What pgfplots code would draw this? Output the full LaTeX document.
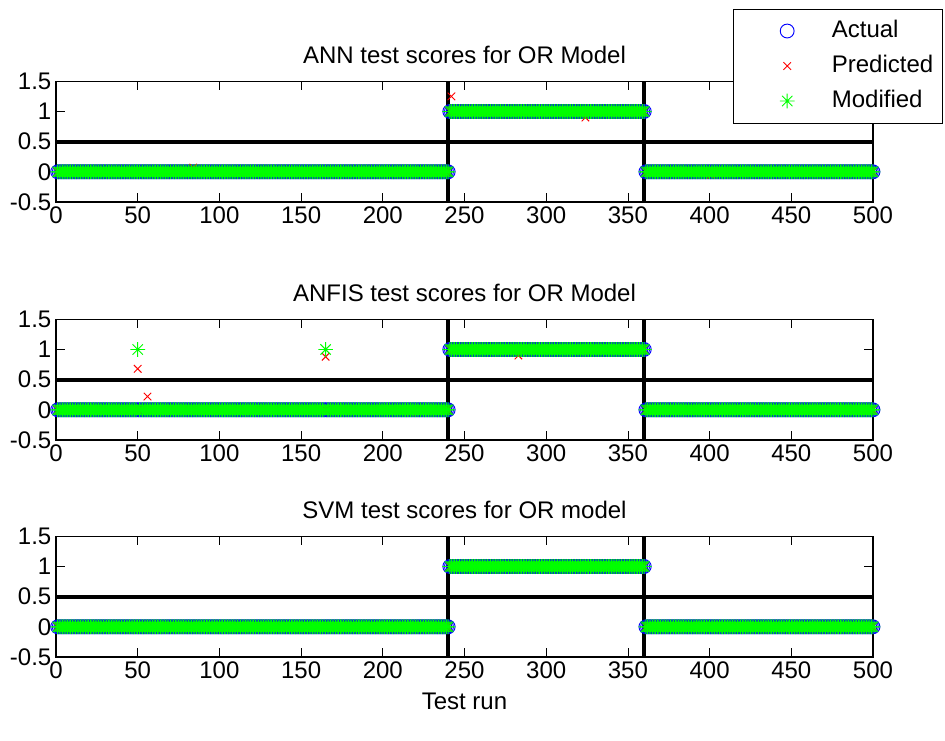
\documentclass[border=0pt]{standalone}
\usepackage{pgfplots}
\pgfplotsset{compat=1.18}
\usepackage{pgfplotstable}
\usepackage{fontspec}
\setmainfont{Liberation Sans}
\newcommand\ff{\fontsize{18}{21.6}\selectfont}

% matlab-like '*' marker (plus and cross)
\pgfdeclareplotmark{mstar}{%
  \pgfpathmoveto{\pgfpoint{-\pgfplotmarksize}{0pt}}%
  \pgfpathlineto{\pgfpoint{\pgfplotmarksize}{0pt}}%
  \pgfpathmoveto{\pgfpoint{0pt}{-\pgfplotmarksize}}%
  \pgfpathlineto{\pgfpoint{0pt}{\pgfplotmarksize}}%
  \pgfpathmoveto{\pgfpoint{-0.707\pgfplotmarksize}{-0.707\pgfplotmarksize}}%
  \pgfpathlineto{\pgfpoint{0.707\pgfplotmarksize}{0.707\pgfplotmarksize}}%
  \pgfpathmoveto{\pgfpoint{-0.707\pgfplotmarksize}{0.707\pgfplotmarksize}}%
  \pgfpathlineto{\pgfpoint{0.707\pgfplotmarksize}{-0.707\pgfplotmarksize}}%
  \pgfusepathqstroke}

% x = test run, a = actual (also ANN/SVM modified, SVM predicted)
\pgfplotstableread{
x a annp anfisp anfism
1 0 0 0 0
2 0 0 0 0
3 0 0 0 0
4 0 0 0 0
5 0 0 0 0
6 0 0 0 0
7 0 0 0 0
8 0 0 0 0
9 0 0 0 0
10 0 0 0 0
11 0 0 0 0
12 0 0 0 0
13 0 0 0 0
14 0 0 0 0
15 0 0 0 0
16 0 0 0 0
17 0 0 0 0
18 0 0 0 0
19 0 0 0 0
20 0 0 0 0
21 0 0 0 0
22 0 0 0 0
23 0 0 0 0
24 0 0 0 0
25 0 0 0 0
26 0 0 0 0
27 0 0 0 0
28 0 0 0 0
29 0 0 0 0
30 0 0 0 0
31 0 0 0 0
32 0 0 0 0
33 0 0 0 0
34 0 0 0 0
35 0 0 0 0
36 0 0 0 0
37 0 0 0 0
38 0 0 0 0
39 0 0 0 0
40 0 0 0 0
41 0 0 0 0
42 0 0 0 0
43 0 0 0 0
44 0 0 0 0
45 0 0 0 0
46 0 0 0 0
47 0 0 0 0
48 0 0 0 0
49 0 0 0 0
50 0 0 0.68 1
51 0 0 0 0
52 0 0 0 0
53 0 0 0 0
54 0 0 0 0
55 0 0 0 0
56 0 0 0.22 0
57 0 0 0 0
58 0 0 0 0
59 0 0 0 0
60 0 0 0 0
61 0 0 0 0
62 0 0 0 0
63 0 0 0 0
64 0 0 0 0
65 0 0 0 0
66 0 0 0 0
67 0 0 0 0
68 0 0 0 0
69 0 0 0 0
70 0 0 0 0
71 0 0 0 0
72 0 0 0 0
73 0 0 0 0
74 0 0 0 0
75 0 0 0 0
76 0 0 0 0
77 0 0 0 0
78 0 0 0 0
79 0 0 0 0
80 0 0 0 0
81 0 0 0 0
82 0 0 0 0
83 0 0 0 0
84 0 0.07 0 0
85 0 0 0 0
86 0 0 0 0
87 0 0 0 0
88 0 0 0 0
89 0 0 0 0
90 0 0 0 0
91 0 0 0 0
92 0 0 0 0
93 0 0 0 0
94 0 0 0 0
95 0 0 0 0
96 0 0 0 0
97 0 0 0 0
98 0 0 0 0
99 0 0 0 0
100 0 0 0 0
101 0 0 0 0
102 0 0 0 0
103 0 0 0 0
104 0 0 0 0
105 0 0 0 0
106 0 0 0 0
107 0 0 0 0
108 0 0 0 0
109 0 0 0 0
110 0 0 0 0
111 0 0 0 0
112 0 0 0 0
113 0 0 0 0
114 0 0 0 0
115 0 0 0 0
116 0 0 0 0
117 0 0 0 0
118 0 0 0 0
119 0 0 0 0
120 0 0 0 0
121 0 0 0 0
122 0 0 0 0
123 0 0 0 0
124 0 0 0 0
125 0 0 0 0
126 0 0 0 0
127 0 0 0 0
128 0 0 0 0
129 0 0 0 0
130 0 0 0 0
131 0 0 0 0
132 0 0 0 0
133 0 0 0 0
134 0 0 0 0
135 0 0 0 0
136 0 0 0 0
137 0 0 0 0
138 0 0 0 0
139 0 0 0 0
140 0 0 0 0
141 0 0 0 0
142 0 0 0 0
143 0 0 0 0
144 0 0 0 0
145 0 0 0 0
146 0 0 0 0
147 0 0 0 0
148 0 0 0 0
149 0 0 0 0
150 0 0 0 0
151 0 0 0 0
152 0 0 0 0
153 0 0 0 0
154 0 0 0 0
155 0 0 0 0
156 0 0 0 0
157 0 0 0 0
158 0 0 0 0
159 0 0 0 0
160 0 0 0 0
161 0 0 0 0
162 0 0 0 0
163 0 0 0 0
164 0 0 0 0
165 0 0 0.88 1
166 0 0 0 0
167 0 0 0 0
168 0 0 0 0
169 0 0 0 0
170 0 0 0 0
171 0 0 0 0
172 0 0 0 0
173 0 0 0 0
174 0 0 0 0
175 0 0 0 0
176 0 0 0 0
177 0 0 0 0
178 0 0 0 0
179 0 0 0 0
180 0 0 0 0
181 0 0 0 0
182 0 0 0 0
183 0 0 0 0
184 0 0 0 0
185 0 0 0 0
186 0 0 0 0
187 0 0 0 0
188 0 0 0 0
189 0 0 0 0
190 0 0 0 0
191 0 0 0 0
192 0 0 0 0
193 0 0 0 0
194 0 0 0 0
195 0 0 0 0
196 0 0 0 0
197 0 0 0 0
198 0 0 0 0
199 0 0 0 0
200 0 0 0 0
201 0 0 0 0
202 0 0 0 0
203 0 0 0 0
204 0 0 0 0
205 0 0 0 0
206 0 0 0 0
207 0 0 0 0
208 0 0 0 0
209 0 0 0 0
210 0 0 0 0
211 0 0 0 0
212 0 0 0 0
213 0 0 0 0
214 0 0 0 0
215 0 0 0 0
216 0 0 0 0
217 0 0 -0.03 0
218 0 0 0 0
219 0 0 0 0
220 0 0 0 0
221 0 0 0 0
222 0 0 0 0
223 0 0 0 0
224 0 0 0 0
225 0 0 0 0
226 0 0 0 0
227 0 0 0 0
228 0 0 0 0
229 0 0 0 0
230 0 0 0 0
231 0 0 0 0
232 0 0 0 0
233 0 0 0 0
234 0 0 0 0
235 0 0 0 0
236 0 0 0 0
237 0 0 0 0
238 0 0 0 0
239 0 0 0 0
240 0 0 0 0
241 1 1 1 1
242 1 1.25 1 1
243 1 1 1 1
244 1 1 1 1
245 1 1 1 1
246 1 1 1 1
247 1 1 1 1
248 1 1 1 1
249 1 1 1 1
250 1 1 1 1
251 1 1 1 1
252 1 1 1 1
253 1 1 1 1
254 1 1 1 1
255 1 1 1 1
256 1 1 1 1
257 1 1 1 1
258 1 1 1 1
259 1 1 1 1
260 1 1 1 1
261 1 1 1 1
262 1 1 1 1
263 1 1 1 1
264 1 1 1 1
265 1 1 1 1
266 1 1 1 1
267 1 1 1 1
268 1 1 1 1
269 1 1 1 1
270 1 1 1 1
271 1 1 1 1
272 1 1 1 1
273 1 1 1 1
274 1 1 1 1
275 1 1 1 1
276 1 1 1 1
277 1 1 1 1
278 1 1 1 1
279 1 1 1 1
280 1 1 1 1
281 1 1 1 1
282 1 1 1 1
283 1 1 0.9 1
284 1 1 1 1
285 1 1 1 1
286 1 1 1 1
287 1 1 1 1
288 1 1 1 1
289 1 1 1 1
290 1 1 1 1
291 1 1 1 1
292 1 1 1 1
293 1 1 1 1
294 1 1 1 1
295 1 1 1 1
296 1 1 1 1
297 1 1 1 1
298 1 1 1 1
299 1 1 1 1
300 1 1 1 1
301 1 1 1 1
302 1 1 1 1
303 1 1 1 1
304 1 1 1 1
305 1 1 1 1
306 1 1 1 1
307 1 1 1 1
308 1 1 1 1
309 1 1 1 1
310 1 1 1 1
311 1 1 1 1
312 1 1 1 1
313 1 1 1 1
314 1 1 1 1
315 1 1 1 1
316 1 1 1 1
317 1 1 1 1
318 1 1 1 1
319 1 1 1 1
320 1 1 1 1
321 1 1 1 1
322 1 1 1 1
323 1 1 1 1
324 1 0.9 1 1
325 1 1 1 1
326 1 1 1 1
327 1 1 1 1
328 1 1 1 1
329 1 1 1 1
330 1 1 1 1
331 1 1 1 1
332 1 1 1 1
333 1 1 1 1
334 1 1 1 1
335 1 1 1 1
336 1 1 1 1
337 1 1 1 1
338 1 1 1 1
339 1 1 1 1
340 1 1 1 1
341 1 1 1 1
342 1 1 1 1
343 1 1 1 1
344 1 1 1 1
345 1 1 1 1
346 1 1 1 1
347 1 1 1 1
348 1 1 1 1
349 1 1 1 1
350 1 1 1 1
351 1 1 1 1
352 1 1 1 1
353 1 1 1 1
354 1 1 1 1
355 1 1 1 1
356 1 1 1 1
357 1 1 1 1
358 1 1 1 1
359 1 1 1 1
360 1 1 1 1
361 0 0 0 0
362 0 0 0 0
363 0 0 0 0
364 0 0 0 0
365 0 0 0 0
366 0 0 0 0
367 0 0 0 0
368 0 0 0 0
369 0 0 0 0
370 0 0 0 0
371 0 0 0 0
372 0 0 0 0
373 0 0 0 0
374 0 0 0 0
375 0 0 0 0
376 0 0 0 0
377 0 0 0 0
378 0 0 0 0
379 0 0 0 0
380 0 0 0 0
381 0 0 0 0
382 0 0 0 0
383 0 0 0 0
384 0 0 0 0
385 0 0 0 0
386 0 0 0 0
387 0 0 0 0
388 0 0 0 0
389 0 0 0 0
390 0 0 0 0
391 0 0 0 0
392 0 0 0 0
393 0 0 0 0
394 0 0 0 0
395 0 0 0 0
396 0 0 0 0
397 0 0 0 0
398 0 0 0 0
399 0 0 0 0
400 0 0 0 0
401 0 -0.05 0 0
402 0 0 0 0
403 0 0 0 0
404 0 0 0 0
405 0 0 0 0
406 0 0 0 0
407 0 0 0 0
408 0 0 0 0
409 0 0 0 0
410 0 0 0 0
411 0 0 0 0
412 0 0 0 0
413 0 0 0 0
414 0 0 0 0
415 0 0 0 0
416 0 0 0 0
417 0 0 0 0
418 0 0 0 0
419 0 0 0 0
420 0 0 0 0
421 0 0 0 0
422 0 0 0 0
423 0 0 0 0
424 0 0 0 0
425 0 0 0 0
426 0 0 0 0
427 0 0 0 0
428 0 0 0 0
429 0 0 0 0
430 0 0 0 0
431 0 0 0 0
432 0 0 0 0
433 0 0 0 0
434 0 0 0 0
435 0 0 0 0
436 0 0 0 0
437 0 0 0 0
438 0 0 0 0
439 0 0 0 0
440 0 0 0 0
441 0 0 0 0
442 0 0 0 0
443 0 0 0 0
444 0 0 0 0
445 0 0 0 0
446 0 0 0 0
447 0 0 0 0
448 0 0 0 0
449 0 0 0 0
450 0 0 0 0
451 0 0 0 0
452 0 0 0 0
453 0 0 0 0
454 0 0 0 0
455 0 0 0 0
456 0 0 0 0
457 0 0 0 0
458 0 0 0 0
459 0 0 0 0
460 0 0 0 0
461 0 0 0 0
462 0 0 0 0
463 0 0 0 0
464 0 0 0 0
465 0 0 0 0
466 0 0 0 0
467 0 0 0 0
468 0 0 0 0
469 0 0 0 0
470 0 0 0 0
471 0 0 0 0
472 0 0 0 0
473 0 0 0 0
474 0 0 0 0
475 0 0 0 0
476 0 0 0 0
477 0 0 0 0
478 0 0 0 0
479 0 0 0 0
480 0 0 0 0
481 0 0 0 0
482 0 0 0 0
483 0 0 0 0
484 0 0 0 0
485 0 0 0 0
486 0 0 0 0
487 0 0 0 0
488 0 0 0 0
489 0 0 0 0
490 0 0 0 0
491 0 0 0 0
492 0 0 0 0
493 0 0 0 0
494 0 0 0 0
495 0 0 0 0
496 0 0 0 0
497 0 0 0 0
498 0 0 0 0
499 0 0 0 0
500 0 0 0 0
}\runs

\pgfplotsset{
  mlab/.style={
    width=612.75pt, height=90.5pt, scale only axis,
    anchor=south west, clip=false,
    xmin=0, xmax=500, ymin=-0.5, ymax=1.5,
    xtick={0,50,...,500},
    xticklabels={0,50,100,150,200,250,300,350,400,450,500},
    ytick={-0.5,0,0.5,1,1.5},
    yticklabels={-0.5,0,0.5,1,1.5},
    tick align=inside, major tick length=6.5pt,
    every tick/.style={black, line width=0.6pt},
    axis line style={line width=0.9pt},
    tick label style={font=\ff},
    label style={font=\ff},
    xlabel style={yshift=-4pt},
    title style={font=\ff, at={(0.5,1)}, anchor=south, yshift=7pt, inner sep=0pt},
  },
  act/.style={only marks, mark=o, blue, line width=0.7pt, mark size=5.2pt},
  pred/.style={only marks, mark=x, red, line width=0.7pt, mark size=4pt},
  modi/.style={only marks, mark=mstar, green, line width=0.7pt, mark size=5.5pt},
  sep/.style={black, line width=3pt},
}

\begin{document}
\begin{tikzpicture}
\begin{axis}[mlab, at={(42pt,404.25pt)},
  title={ANN test scores for OR Model},
  legend style={at={(1.0857,1.6033)}, anchor=north east, draw=black, line width=0.75pt,
    fill=white, font=\ff, inner xsep=0pt, inner ysep=7.5pt, row sep=8.25pt,
    nodes={inner sep=0pt, text height=14pt, text depth=4pt, text width=83pt, align=left}},
  legend cell align=left,
  legend image code/.code={\path[draw=none, fill=none] (0pt,0pt) -- (74pt,0pt); \draw plot coordinates {(40.5pt,0pt)};}]
\addplot[act] table[x=x, y=a]{\runs};
\addplot[pred] table[x=x, y=annp]{\runs};
\addplot[modi] table[x=x, y=a]{\runs};
\addplot[sep] coordinates {(0,0.5) (500,0.5)};
\addplot[sep] coordinates {(240,-0.5) (240,1.5)};
\addplot[sep] coordinates {(360,-0.5) (360,1.5)};
\legend{Actual, Predicted, Modified}
\end{axis}

\begin{axis}[mlab, at={(42pt,225.75pt)},
  title={ANFIS test scores for OR Model}]
\addplot[act] table[x=x, y=a]{\runs};
\addplot[pred] table[x=x, y=anfisp]{\runs};
\addplot[modi] table[x=x, y=anfism]{\runs};
\addplot[sep] coordinates {(0,0.5) (500,0.5)};
\addplot[sep] coordinates {(240,-0.5) (240,1.5)};
\addplot[sep] coordinates {(360,-0.5) (360,1.5)};
\end{axis}

\begin{axis}[mlab, at={(42pt,63pt)},
  title={SVM test scores for OR model}, xlabel={Test run}]
\addplot[act] table[x=x, y=a]{\runs};
\addplot[pred] table[x=x, y=a]{\runs};
\addplot[modi] table[x=x, y=a]{\runs};
\addplot[sep] coordinates {(0,0.5) (500,0.5)};
\addplot[sep] coordinates {(240,-0.5) (240,1.5)};
\addplot[sep] coordinates {(360,-0.5) (360,1.5)};
\end{axis}

\pgfresetboundingbox
\path[use as bounding box] (0,0) rectangle (708.75pt,555.75pt);
\end{tikzpicture}
\end{document}
